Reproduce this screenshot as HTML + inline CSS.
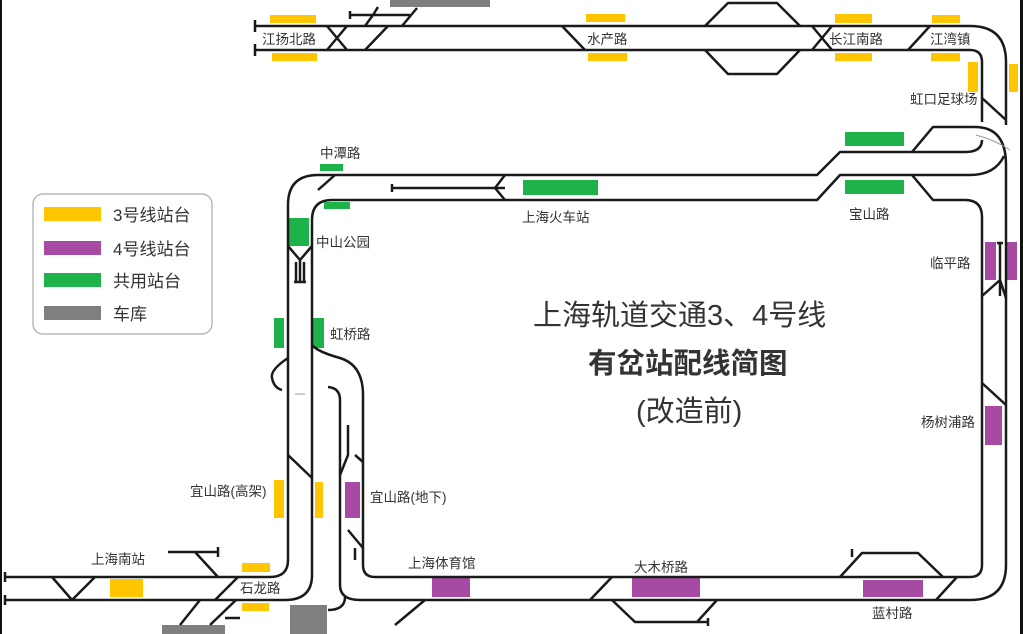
<!DOCTYPE html>
<html><head><meta charset="utf-8"><style>
html,body{margin:0;padding:0;background:#fff;}
svg{display:block;}
text{font-family:"Liberation Sans","Noto Sans CJK SC",sans-serif;fill:#333;}
</style></head><body>
<svg width="1023" height="634" viewBox="0 0 1023 634" xmlns="http://www.w3.org/2000/svg">
<rect x="0" y="0" width="1023" height="634" fill="#fff"/>
<rect x="0" y="0" width="2" height="634" fill="#111"/>
<rect x="1020" y="0" width="3" height="634" fill="#111"/>

<!-- platforms -->
<g fill="#ffc600">
<rect x="270" y="15" width="46" height="8"/><rect x="272" y="53" width="45" height="8"/>
<rect x="586" y="14" width="39" height="8"/><rect x="588" y="53" width="39" height="8"/>
<rect x="835" y="14" width="37" height="9"/><rect x="835" y="53" width="37" height="8"/>
<rect x="932" y="15" width="28" height="8"/><rect x="931" y="53" width="29" height="8"/>
<rect x="968" y="62" width="10" height="30"/><rect x="1009" y="64" width="9" height="28"/>
<rect x="274" y="480" width="10" height="38"/><rect x="315" y="482" width="8" height="36"/>
<rect x="110" y="579" width="33" height="18"/>
<rect x="242" y="563" width="28" height="9"/><rect x="242" y="603" width="27" height="8"/>
</g>
<g fill="#1db34a">
<rect x="845" y="132" width="59" height="14"/><rect x="845" y="180" width="59" height="14"/>
<rect x="523" y="180" width="75" height="15"/>
<rect x="320" y="164" width="23" height="7"/><rect x="324" y="202" width="26" height="7"/>
<rect x="289" y="218" width="20" height="28"/>
<rect x="274" y="318" width="10" height="30"/><rect x="313" y="318" width="11" height="30"/>
</g>
<g fill="#a64aa3">
<rect x="985" y="242" width="11" height="38"/><rect x="1006" y="242" width="11" height="38"/>
<rect x="985" y="406" width="17" height="39"/>
<rect x="345" y="482" width="15" height="36"/>
<rect x="432" y="578" width="38" height="19"/>
<rect x="632" y="578" width="68" height="19"/>
<rect x="863" y="580" width="60" height="17"/>
</g>
<g fill="#7f7f7f">
<rect x="390" y="0" width="100" height="7"/>
<rect x="290" y="605" width="37" height="29"/>
<rect x="162" y="625" width="63" height="9"/>
</g>

<!-- tracks -->
<g fill="none" stroke="#1a1a1a" stroke-width="2.5" stroke-linejoin="round">
<path d="M255 26 H970 Q1006 26 1006 62 V125"/>
<path d="M255 50 H970 Q982 50 982 62 V122"/>
<path d="M255 20 V32 M255 44 V56"/>
<path d="M327 26 L347 50 M327 50 L347 26"/>
<path d="M365 50 L388 26 M365 26 L373 15 M402 26 L417 8 M350 15 H410 M350 11 V19 M373 15 L378 7"/>
<path d="M562 26 L585 50"/>
<path d="M705 26 L728 3 H777 L800 26 M705 50 L728 74 H777 L800 50"/>
<path d="M812 26 L832 50 M812 50 L832 26"/>
<path d="M908 50 L930 26"/>
<path d="M982 98 L1006 120"/>
<path d="M288 560 V205 Q288 175 318 175 H817 L840 152 H965 Q982 152 982 140"/>
<path d="M312 575 V220 Q312 200 332 200 H817 L840 175 H970 Q995 175 1004 156"/>
<path d="M912 152 L933 127 H975 Q1006 127 1006 165 V565 Q1006 600 970 600 H360 Q340 600 340 585"/>
<path d="M912 175 L933 200 H965 Q982 200 982 217 V565 Q982 577 970 577 H375 Q363 577 363 565 V395 Q363 365 340 358 Q318 352 312 345"/>
<path d="M340 585 V400 Q340 388 328 387"/>
<path d="M318 190 L335 175 M392 188 H505 M392 184 V192 M495 188 L505 175 M495 188 L505 200"/>
<path d="M288 246 L300 260 L312 246 M300 260 V282 M296 262 V282 M304 262 V282 M294 282 H306"/>
<path d="M288 358 Q270 370 272 378 Q274 388 282 390"/>
<path d="M288 455 L312 478"/>
<path d="M288 560 Q288 577 270 577 H5 M312 575 Q312 600 285 600 H5"/>
<path d="M5 572 V582 M5 595 V605"/>
<path d="M52 577 L72 600 L95 577"/>
<path d="M168 552 H218 M218 547 V557 M195 552 L218 577"/>
<path d="M215 600 L238 577 M180 625 L200 600 M210 625 L236 600 M225 618 H240"/>
<path d="M348 425 V455 L340 475 M355 455 L363 462 M348 530 L363 548 M355 548 V560"/>
<path d="M328 610 Q345 610 345 597"/>
<path d="M395 625 L425 600"/>
<path d="M590 600 L612 577 M612 600 L635 622 H708 M697 622 L717 600 M708 618 V626"/>
<path d="M840 577 L862 553 H918 L943 577 M852 549 V557 M936 600 L957 577"/>
<path d="M982 383 L1006 405"/>
<path d="M1000 242 V296 M997 243 L1003 243 M982 296 L1000 280 L1006 298"/>
</g>
<g fill="none" stroke="#999" stroke-width="1">
<path d="M976 135 Q995 140 1010 150"/>
<path d="M295 394 H305"/>
</g>

<!-- labels -->
<g font-size="13.5">
<text x="262" y="44">江扬北路</text>
<text x="587" y="44">水产路</text>
<text x="829" y="44">长江南路</text>
<text x="930" y="44">江湾镇</text>
<text x="910" y="104">虹口足球场</text>
<text x="320" y="158">中潭路</text>
<text x="316" y="247">中山公园</text>
<text x="330" y="339">虹桥路</text>
<text x="522" y="222">上海火车站</text>
<text x="849" y="219">宝山路</text>
<text x="930" y="268">临平路</text>
<text x="921" y="427">杨树浦路</text>
<text x="190" y="496">宜山路(高架)</text>
<text x="370" y="502">宜山路(地下)</text>
<text x="91" y="564">上海南站</text>
<text x="240" y="593">石龙路</text>
<text x="408" y="568">上海体育馆</text>
<text x="634" y="572">大木桥路</text>
<text x="872" y="618">蓝村路</text>
</g>
<text x="533" y="325" font-size="29">上海轨道交通3、4号线</text>
<text x="588" y="373" font-size="28.5" font-weight="bold">有岔站配线简图</text>
<text x="636" y="421" font-size="29">(改造前)</text>

<!-- legend -->
<rect x="33" y="194" width="179" height="140" rx="10" fill="#fff" stroke="#aaa" stroke-width="1.2"/>
<rect x="44" y="207" width="57" height="14" fill="#ffc600"/>
<rect x="44" y="241" width="57" height="14" fill="#a64aa3"/>
<rect x="44" y="273" width="57" height="14" fill="#1db34a"/>
<rect x="44" y="306" width="57" height="14" fill="#7f7f7f"/>
<g font-size="17">
<text x="113" y="221">3号线站台</text>
<text x="113" y="255">4号线站台</text>
<text x="113" y="287">共用站台</text>
<text x="113" y="320">车库</text>
</g>
</svg>
</body></html>
